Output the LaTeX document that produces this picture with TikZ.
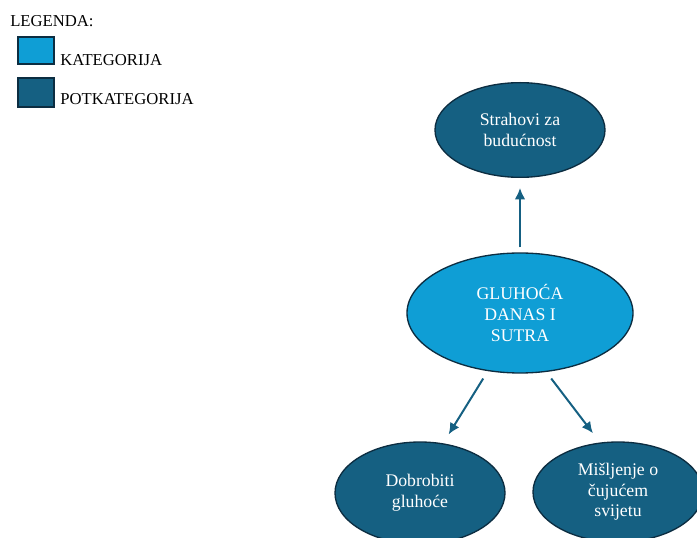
\documentclass[tikz,border=0pt]{standalone}
\usepackage{fontspec}
\setmainfont{Liberation Serif}
\usetikzlibrary{shapes.geometric,arrows.meta}
\definecolor{katplava}{HTML}{0F9ED5}
\definecolor{potplava}{HTML}{156082}
\definecolor{rub}{HTML}{0C2D41}
\begin{document}
\begin{tikzpicture}[x=0.75pt,y=-0.75pt,>={Latex[length=8.5pt,width=8pt]},
  kat/.style={ellipse,draw=rub,line width=1pt,fill=katplava,text=white,
    inner sep=0pt,align=center,font=\fontsize{13.3}{15.5}\selectfont},
  potkat/.style={ellipse,draw=rub,line width=1pt,fill=potplava,text=white,
    inner sep=0pt,align=center,font=\fontsize{13.3}{15.5}\selectfont},
  kljuc/.style={rectangle,draw=rub,line width=1.4pt,inner sep=0pt},
  tekst/.style={anchor=base west,inner sep=0pt,font=\fontsize{12.5}{15}\selectfont},
  veza/.style={->,draw=potplava,line width=1.5pt}]
  \useasboundingbox (0,0) rectangle (697,538);

  % legenda
  \node[tekst] (leg) at (10,27) {LEGENDA:};
  \node[kljuc,fill=katplava,minimum width=27pt,minimum height=20pt] (k1) at (36,50.5) {};
  \node[kljuc,fill=potplava,minimum width=27pt,minimum height=21.5pt] (k2) at (36,92.5) {};
  \node[tekst] (t1) at (60,66) {KATEGORIJA};
  \node[tekst] (t2) at (60,105) {POTKATEGORIJA};

  % kategorija i potkategorije
  \node[kat,minimum width=169.5pt,minimum height=90pt] (gl) at (520,313) {GLUHOĆA\\DANAS I\\SUTRA};
  \node[potkat,minimum width=127.5pt,minimum height=71pt] (str) at (520,130) {Strahovi za\\budućnost};
  \node[potkat,minimum width=127.5pt,minimum height=76.5pt] (dob) at (420,493) {Dobrobiti\\gluhoće};
  \node[potkat,minimum width=127.5pt,minimum height=75pt] (mis) at (618,492) {Mišljenje o\\čujućem\\svijetu};

  % strelice
  \draw[veza,shorten <=3.75pt,shorten >=7.5pt] (gl.north) -- (str.south);
  \draw[veza,shorten <=6.5pt,shorten >=7.8pt] (gl.-119.4) -- (dob.65.3);
  \draw[veza,shorten <=6.1pt,shorten >=8.7pt] (gl.-66.8) -- (mis.110.1);
\end{tikzpicture}
\end{document}
